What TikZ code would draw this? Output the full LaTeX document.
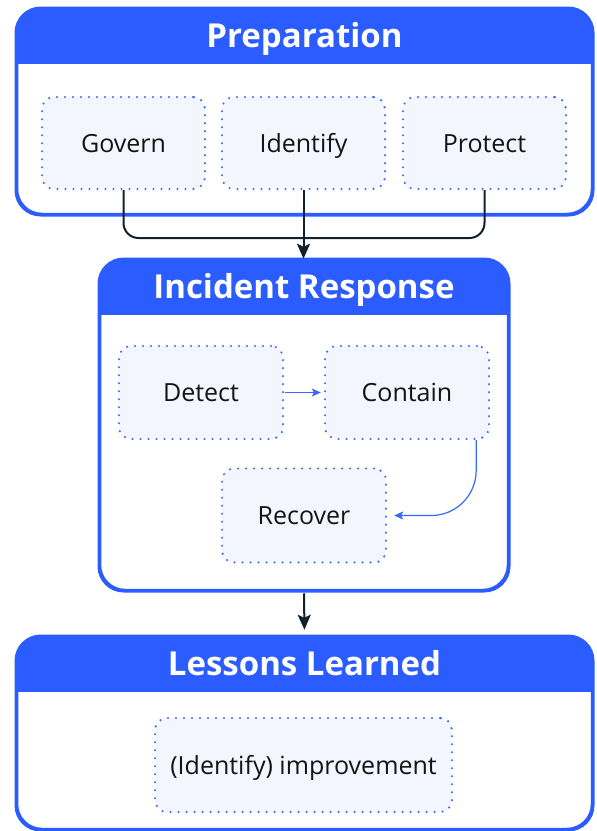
\documentclass[tikz,border=0pt]{standalone}
\usepackage{fontspec}
\setmainfont{Open Sans}
\usetikzlibrary{arrows.meta}
\definecolor{hdrblue}{HTML}{2B5CFF}
\definecolor{dotblue}{HTML}{3A68FF}
\definecolor{innerfill}{HTML}{F3F6FE}
\definecolor{darkline}{HTML}{10202C}
\definecolor{bodytext}{HTML}{141414}
\tikzset{
  container/.style={draw=hdrblue, line width=2.5pt, rounded corners=25pt, fill=white, inner sep=0pt},
  inner/.style={draw=dotblue, fill=innerfill, line width=2.4pt, line cap=round,
    dash pattern=on 0pt off 8pt, rounded corners=12pt, inner sep=0pt,
    text height=18pt, text depth=0pt,
    font=\fontsize{25}{29}\selectfont, text=bodytext},
  title/.style={text=white, font=\fontsize{33}{37}\selectfont\bfseries, inner sep=0pt, anchor=base},
  conn/.style={draw=darkline, line width=2pt},
  darrow/.style={conn, -{Stealth[length=15pt,width=13pt,inset=3pt]}},
  barrow/.style={draw=dotblue, line width=1.2pt, -{Stealth[length=9pt,width=8pt,inset=2pt]}},
}
\begin{document}
\begin{tikzpicture}[x=1pt,y=-1pt]
\useasboundingbox (0,0) rectangle (597,831);

% containers
\node[container, minimum width=575pt, minimum height=205pt] (prep) at (304.5,111.5) {};
\node[container, minimum width=408pt, minimum height=330pt] (ir) at (304,425) {};
\node[container, minimum width=575pt, minimum height=192pt] (ll) at (304.5,733) {};

% headers
\foreach \c in {prep, ir, ll} {
  \begin{scope}
    \clip[rounded corners=25pt] (\c.north west) rectangle (\c.south east);
    \fill[hdrblue] (\c.north west) rectangle ([yshift=-56pt]\c.north east);
  \end{scope}
  \draw[hdrblue, line width=2.5pt, rounded corners=25pt] (\c.north west) rectangle (\c.south east);
}

\node[title] (preptitle) at ([yshift=-40pt]prep.north) {Preparation};
\node[title] (irtitle) at ([yshift=-40pt]ir.north) {Incident Response};
\node[title] (lltitle) at ([yshift=-40pt]ll.north) {Lessons Learned};

% inner boxes
\node[inner, minimum width=163pt, minimum height=92pt] (govern) at (123.5,143) {Govern};
\node[inner, minimum width=163pt, minimum height=92pt] (identify) at (303.5,143) {Identify};
\node[inner, minimum width=163pt, minimum height=92pt] (protect) at (484.5,143) {Protect};
\node[inner, minimum width=164pt, minimum height=93pt] (detect) at (201,392.5) {Detect};
\node[inner, minimum width=164pt, minimum height=93pt] (contain) at (407,392.5) {Contain};
\node[inner, minimum width=164pt, minimum height=94pt] (recover) at (304,515.5) {Recover};
\node[inner, minimum width=297pt, minimum height=94pt] (improve) at (303.5,765) {(Identify) improvement};

% connectors
\coordinate (join) at (304,238);
\draw[conn, rounded corners=15pt] (govern.south) |- (join) -| (protect.south);
\draw[darrow] (identify.south) -- (identify.south |- ir.north);
\draw[darrow, shorten <=2pt, shorten >=6pt] (ir.south) -- (ll.north);
\draw[barrow, shorten <=1pt, shorten >=3pt] (detect.east) -- (contain.west);
\draw[barrow, rounded corners=45pt] ([xshift=-14pt]contain.south east) |- ([xshift=7pt]recover.east);
\end{tikzpicture}
\end{document}
